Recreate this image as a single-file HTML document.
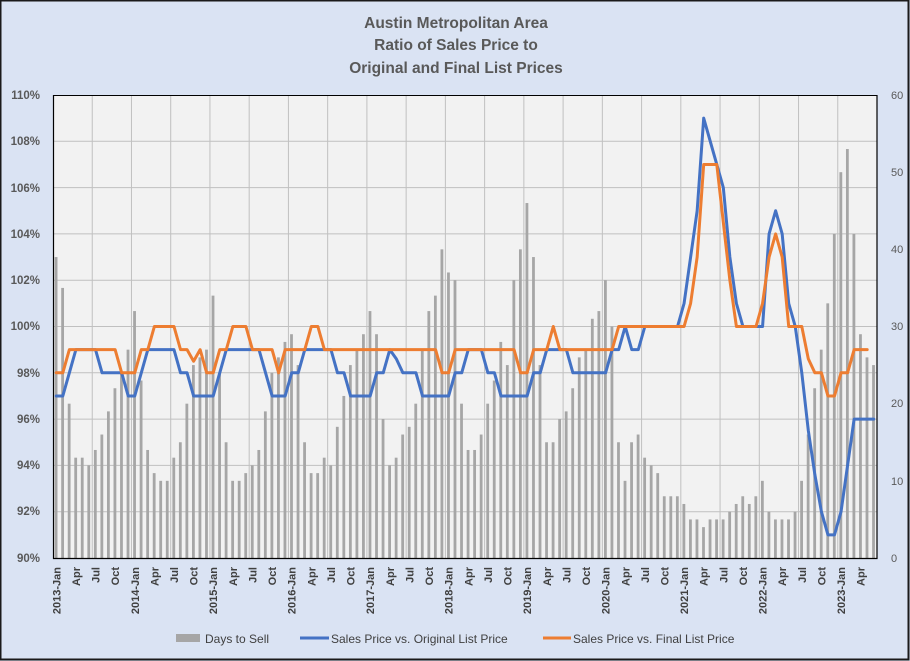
<!DOCTYPE html>
<html><head><meta charset="utf-8"><style>
html,body{margin:0;padding:0;}
body{width:910px;height:661px;overflow:hidden;background:#dae3f3;}
svg{display:block;font-family:"Liberation Sans",sans-serif;}
</style></head><body>
<svg id="c" width="910" height="661" viewBox="0 0 910 661" xmlns="http://www.w3.org/2000/svg">
<rect x="0.5" y="0.5" width="908" height="659" fill="#dae3f3" stroke="#1a1a1a" stroke-width="2"/>
<g font-weight="bold" font-size="15.5" fill="#595959" text-anchor="middle">
<text x="456" y="28">Austin Metropolitan Area</text>
<text x="456" y="50">Ratio of Sales Price to</text>
<text x="456" y="73">Original and Final List Prices</text>
</g>
<rect x="53" y="95" width="824" height="463" fill="#f2f2f2"/>
<g id="grid" stroke="#c0c0c0" stroke-width="1"></g>
<g id="bars" fill="#a6a6a6"></g>
<g id="lines"></g>
<path d="M53.5 95 V558.5 H877 V95" fill="none" stroke="#000" stroke-width="1.2"/>
<line x1="53" y1="95.5" x2="877" y2="95.5" stroke="#000" stroke-width="1"/>
<g font-size="11.5" font-weight="bold" fill="#595959" text-anchor="end">
<text x="40" y="99">110%</text><text x="40" y="145">108%</text><text x="40" y="192">106%</text>
<text x="40" y="238">104%</text><text x="40" y="284">102%</text><text x="40" y="330">100%</text>
<text x="40" y="377">98%</text><text x="40" y="423">96%</text><text x="40" y="469">94%</text>
<text x="40" y="515">92%</text><text x="40" y="562">90%</text>
</g>
<g font-size="11" fill="#595959" text-anchor="start">
<text x="891" y="99">60</text><text x="891" y="176">50</text><text x="891" y="253">40</text>
<text x="891" y="330">30</text><text x="891" y="407">20</text><text x="891" y="485">10</text>
<text x="891" y="562">0</text>
</g>
<g font-size="11" font-weight="bold" fill="#404040" text-anchor="end">
<text transform="translate(60.3,567) rotate(-90)">2013-Jan</text>
<text transform="translate(79.9,567) rotate(-90)">Apr</text>
<text transform="translate(99.5,567) rotate(-90)">Jul</text>
<text transform="translate(119.1,567) rotate(-90)">Oct</text>
<text transform="translate(138.8,567) rotate(-90)">2014-Jan</text>
<text transform="translate(158.4,567) rotate(-90)">Apr</text>
<text transform="translate(178,567) rotate(-90)">Jul</text>
<text transform="translate(197.6,567) rotate(-90)">Oct</text>
<text transform="translate(217.2,567) rotate(-90)">2015-Jan</text>
<text transform="translate(236.9,567) rotate(-90)">Apr</text>
<text transform="translate(256.5,567) rotate(-90)">Jul</text>
<text transform="translate(276.1,567) rotate(-90)">Oct</text>
<text transform="translate(295.7,567) rotate(-90)">2016-Jan</text>
<text transform="translate(315.3,567) rotate(-90)">Apr</text>
<text transform="translate(335,567) rotate(-90)">Jul</text>
<text transform="translate(354.6,567) rotate(-90)">Oct</text>
<text transform="translate(374.2,567) rotate(-90)">2017-Jan</text>
<text transform="translate(393.8,567) rotate(-90)">Apr</text>
<text transform="translate(413.4,567) rotate(-90)">Jul</text>
<text transform="translate(433.1,567) rotate(-90)">Oct</text>
<text transform="translate(452.7,567) rotate(-90)">2018-Jan</text>
<text transform="translate(472.3,567) rotate(-90)">Apr</text>
<text transform="translate(491.9,567) rotate(-90)">Jul</text>
<text transform="translate(511.5,567) rotate(-90)">Oct</text>
<text transform="translate(531.2,567) rotate(-90)">2019-Jan</text>
<text transform="translate(550.8,567) rotate(-90)">Apr</text>
<text transform="translate(570.4,567) rotate(-90)">Jul</text>
<text transform="translate(590,567) rotate(-90)">Oct</text>
<text transform="translate(609.6,567) rotate(-90)">2020-Jan</text>
<text transform="translate(629.3,567) rotate(-90)">Apr</text>
<text transform="translate(648.9,567) rotate(-90)">Jul</text>
<text transform="translate(668.5,567) rotate(-90)">Oct</text>
<text transform="translate(688.1,567) rotate(-90)">2021-Jan</text>
<text transform="translate(707.7,567) rotate(-90)">Apr</text>
<text transform="translate(727.4,567) rotate(-90)">Jul</text>
<text transform="translate(747,567) rotate(-90)">Oct</text>
<text transform="translate(766.6,567) rotate(-90)">2022-Jan</text>
<text transform="translate(786.2,567) rotate(-90)">Apr</text>
<text transform="translate(805.8,567) rotate(-90)">Jul</text>
<text transform="translate(825.5,567) rotate(-90)">Oct</text>
<text transform="translate(845.1,567) rotate(-90)">2023-Jan</text>
<text transform="translate(864.7,567) rotate(-90)">Apr</text>
</g>
<rect x="176" y="634" width="24" height="8" fill="#a6a6a6"/>
<line x1="300" y1="638" x2="329" y2="638" stroke="#4472c4" stroke-width="3"/>
<line x1="543" y1="638" x2="571" y2="638" stroke="#ed7d31" stroke-width="3"/>
<g font-size="12" fill="#404040">
<text x="205" y="643">Days to Sell</text>
<text x="331" y="643">Sales Price vs. Original List Price</text>
<text x="573" y="643">Sales Price vs. Final List Price</text>
</g>
</svg>
<script>
(function(){
var NS="http://www.w3.org/2000/svg";
var L=53,R=877,T=95,B=558,N=126,W=(R-L)/N;
function yp(p){return B-(p-90)/20*(B-T);}
function yd(d){return B-d/60*(B-T);}
function xc(i){return L+(i+0.5)*W;}
var g=document.getElementById('grid'),s='';
for(var k=1;k<10;k++){var y=yp(90+2*k);s+='<line x1="'+L+'" x2="'+R+'" y1="'+y+'" y2="'+y+'"/>';}
for(var k=6;k<N;k+=6){var x=L+k*W;s+='<line x1="'+x+'" x2="'+x+'" y1="'+T+'" y2="'+B+'"/>';}
g.innerHTML=s;
var days=[39,35,20,13,13,12,14,16,19,22,24,27,32,23,14,11,10,10,13,15,20,25,26,27,34,24,15,10,10,11,12,14,19,24,26,28,29,25,15,11,11,13,12,17,21,25,27,29,32,29,18,12,13,16,17,20,27,32,34,40,37,36,20,14,14,16,20,23,28,25,36,40,46,39,25,15,15,18,19,22,26,27,31,32,36,30,15,10,15,16,13,12,11,8,8,8,7,5,5,4,5,5,5,6,7,8,7,8,10,6,5,5,5,6,10,16,22,27,33,42,50,53,42,29,26,25];
var blue=[97,97,98,99,99,99,99,98,98,98,98,97,97,98,99,99,99,99,99,98,98,97,97,97,97,98,99,99,99,99,99,99,98,97,97,97,98,98,99,99,99,99,99,98,98,97,97,97,97,98,98,99,98.6,98,98,98,97,97,97,97,97,98,98,99,99,99,98,98,97,97,97,97,97,98,98,99,99,99,99,98,98,98,98,98,98,99,99,100,99,99,100,100,100,100,100,100,101,103,105,109,108,107,106,103,101,100,100,100,100,104,105,104,101,100,98,95.5,93.6,92,91,91,92,94,96,96,96,96];
var orange=[98,98,99,99,99,99,99,99,99,99,98,98,98,99,99,100,100,100,100,99,99,98.5,99,98,98,99,99,100,100,100,99,99,99,99,98,99,99,99,99,100,100,99,99,99,99,99,99,99,99,99,99,99,99,99,99,99,99,99,99,98,98,99,99,99,99,99,99,99,99,99,99,98,98,99,99,99,100,99,99,99,99,99,99,99,99,99,100,100,100,100,100,100,100,100,100,100,100,101,103,107,107,107,104.5,102,100,100,100,100,101,103,104,103,100,100,100,98.6,98,98,97,97,98,98,99,99,99];
var b='';
for(var i=0;i<N;i++){var x=xc(i)-1.6,y=yd(days[i]);b+='<rect x="'+x.toFixed(2)+'" y="'+y.toFixed(2)+'" width="2.8" height="'+(B-y).toFixed(2)+'"/>';}
document.getElementById('bars').innerHTML=b;
function path(a,c){var d='';for(var i=0;i<a.length;i++){d+=(i?'L':'M')+xc(i).toFixed(2)+' '+yp(a[i]).toFixed(2);}
return '<path d="'+d+'" fill="none" stroke="'+c+'" stroke-width="3" stroke-linejoin="round" stroke-linecap="round"/>';}
document.getElementById('lines').innerHTML=path(blue,'#4472c4')+path(orange,'#ed7d31');
})();
</script>
</body></html>
